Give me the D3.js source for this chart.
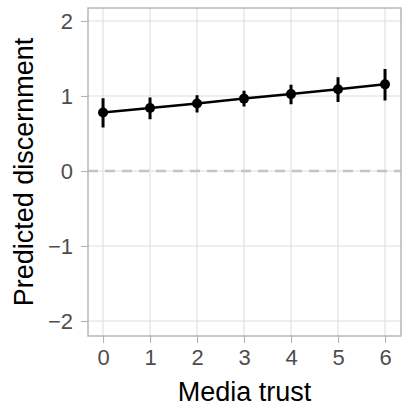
<!DOCTYPE html>
<html><head><meta charset="utf-8">
<script src="https://cdn.jsdelivr.net/npm/d3@7/dist/d3.min.js"></script>
<style>body{margin:0;background:#fff}svg{display:block}</style>
</head><body><svg id="c" width="405" height="414"></svg>
<script>
const mediaTrust = [0, 1, 2, 3, 4, 5, 6];
const predicted = [0.78, 0.84, 0.90, 0.965, 1.025, 1.09, 1.155];
const lower = [0.58, 0.69, 0.78, 0.86, 0.89, 0.92, 0.94];
const upper = [0.97, 0.98, 1.01, 1.07, 1.15, 1.25, 1.36];
const xTicks = [0, 1, 2, 3, 4, 5, 6];
const yTicks = [-2, -1, 0, 1, 2];

const svg = d3.select("#c");
const L = 88, R = 401, T = 8, B = 336;
const x = d3.scaleLinear().domain([-0.32, 6.34]).range([L, R]);
const y = d3.scaleLinear().domain([-2.2, 2.173]).range([B, T]);
const font = "'Liberation Sans', Arial, Helvetica, sans-serif";
const fmt = d => (d < 0 ? "\u2212" + Math.abs(d) : String(d));

// grid
const g = svg.append("g");
g.selectAll(".gx").data(xTicks).enter().append("line")
  .attr("x1", d => x(d)).attr("x2", d => x(d)).attr("y1", T).attr("y2", B)
  .attr("stroke", "#dedede").attr("stroke-width", 1.1);
g.selectAll(".gy").data(yTicks).enter().append("line")
  .attr("y1", d => y(d)).attr("y2", d => y(d)).attr("x1", L).attr("x2", R)
  .attr("stroke", "#dedede").attr("stroke-width", 1.1);

// zero reference
svg.append("line").attr("x1", L).attr("x2", R).attr("y1", y(0)).attr("y2", y(0))
  .attr("stroke", "#c4c4c4").attr("stroke-width", 2.6).attr("stroke-dasharray", "10,7");

// axes
const xAxis = svg.append("g").attr("transform", `translate(0,${B})`)
  .call(d3.axisBottom(x).tickValues(xTicks).tickSize(7).tickPadding(6).tickFormat(fmt));
const yAxis = svg.append("g").attr("transform", `translate(${L},0)`)
  .call(d3.axisLeft(y).tickValues(yTicks).tickSize(7).tickPadding(8).tickFormat(fmt));
[xAxis, yAxis].forEach(a => {
  a.select(".domain").remove();
  a.selectAll(".tick line").attr("stroke", "#b3b3b3").attr("stroke-width", 1.1);
  a.selectAll(".tick text").attr("fill", "#4d4d4d").style("font-family", font).style("font-size", "22px");
});

// panel border
svg.append("rect").attr("x", L).attr("y", T).attr("width", R - L).attr("height", B - T)
  .attr("fill", "none").attr("stroke", "#b3b3b3").attr("stroke-width", 1.4);

// error bars
svg.selectAll(".eb").data(mediaTrust).enter().append("line")
  .attr("x1", d => x(d)).attr("x2", d => x(d))
  .attr("y1", (d, i) => y(lower[i])).attr("y2", (d, i) => y(upper[i]))
  .attr("stroke", "#000").attr("stroke-width", 3);

// line
svg.append("path").datum(mediaTrust)
  .attr("d", d3.line().x(d => x(d)).y((d, i) => y(predicted[i])))
  .attr("fill", "none").attr("stroke", "#000").attr("stroke-width", 2.5);

// points
svg.selectAll(".pt").data(mediaTrust).enter().append("circle")
  .attr("cx", d => x(d)).attr("cy", (d, i) => y(predicted[i])).attr("r", 5).attr("fill", "#000");

// titles
svg.append("text").attr("x", (L + R) / 2).attr("y", 401).attr("text-anchor", "middle")
  .style("font-family", font).style("font-size", "27px").attr("fill", "#000").text("Media trust");
svg.append("text").attr("transform", `translate(33,${(T + B) / 2}) rotate(-90)`).attr("text-anchor", "middle")
  .style("font-family", font).style("font-size", "27px").attr("fill", "#000").text("Predicted discernment");
</script></body></html>
